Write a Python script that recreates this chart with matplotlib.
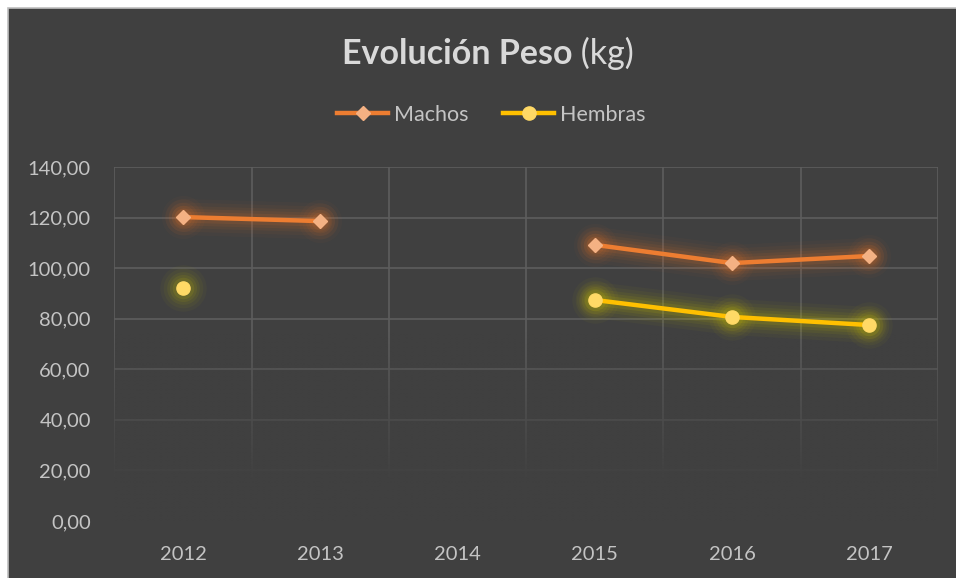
import numpy as np
import matplotlib.pyplot as plt
from matplotlib.patches import Rectangle
from matplotlib.lines import Line2D

years = ["2012", "2013", "2014", "2015", "2016", "2017"]
machos = [120.2, 118.6, np.nan, 109.2, 102.0, 104.8]
hembras = [92.1, np.nan, np.nan, 87.4, 80.7, 77.5]
yticks = [0, 20, 40, 60, 80, 100, 120, 140]
ytick_labels = ["0,00", "20,00", "40,00", "60,00", "80,00", "100,00", "120,00", "140,00"]

FONT = ["Lato", "DejaVu Sans"]
plt.rcParams["font.family"] = FONT
BG = "#404040"
TXT = "#d9d9d9"
TICK = "#c4c4c4"

W, H = 956, 578
fig = plt.figure(figsize=(W / 100, H / 100), dpi=100, facecolor="white")
# chart area panel
fig.patches.append(Rectangle((8 / W, -0.05), 1.1, 1.05 - 8 / H, transform=fig.transFigure,
                             facecolor=BG, edgecolor="#bfbfbf", linewidth=1.2, zorder=-5))

left, right, top, bottom = 114.4, 938, 167, 521
ax = fig.add_axes([left / W, 1 - bottom / H, (right - left) / W, (bottom - top) / H])
ax.set_zorder(2)
ax.set_facecolor(BG)
for s in ax.spines.values():
    s.set_visible(False)

x = np.arange(len(years))
ax.set_xlim(-0.5, len(years) - 0.5)
ax.set_ylim(0, 140)
ax.set_yticks(yticks)
ax.set_yticklabels(ytick_labels)
ax.set_xticks(x)
ax.set_xticklabels(years)
ax.tick_params(length=0, colors=TICK, labelsize=14.5, pad=0)
ax.tick_params(axis="y", pad=17)
ax.tick_params(axis="x", pad=18)

# grid
for yv in yticks:
    ax.axhline(yv, color="#5e5e5e", lw=1.2, zorder=1)
for xv in np.arange(-0.5, len(years), 1.0):
    ax.axvline(xv, color="#5e5e5e", lw=1.2, zorder=1)

# fade overlay toward bottom
grad = np.clip((75 - np.linspace(0, 140, 300)) / 60, 0, 1)
img = np.zeros((300, 2, 4))
img[..., :3] = np.array([0x40, 0x40, 0x40]) / 255
img[..., 3] = grad[:, None]
ax.imshow(img, extent=[-0.5, len(years) - 0.5, 0, 140], origin="lower", aspect="auto",
          zorder=1.5, interpolation="bilinear")

def glow_plot(vals, color, glow, marker, mface, msize):
    v = np.array(vals, dtype=float)
    for lw, a in [(26, 0.04), (21, 0.05), (16, 0.07), (12, 0.09), (8, 0.12)]:
        ax.plot(x, v, color=glow, lw=lw, alpha=a, solid_capstyle="round", zorder=2)
        ax.plot(x, v, ls="none", marker="o", ms=msize + lw - 2, mfc=glow, mec="none",
                alpha=a, zorder=2)
    ax.plot(x, v, color=color, lw=3.2, zorder=3, solid_capstyle="round")
    ax.plot(x, v, ls="none", marker=marker, ms=msize, mfc=mface, mec=mface, zorder=4)

glow_plot(machos, "#ED7D31", "#d9702a", "D", "#F4B183", 7)
glow_plot(hembras, "#FFC000", "#c8c000", "o", "#FFD966", 9.5)

# title
t1 = fig.text(0, 0, "Evolución Peso", fontsize=24.5, fontweight="bold", color=TXT)
t2 = fig.text(0, 0, " (kg)", fontsize=24.5, color=TXT)
fig.canvas.draw()
r = fig.canvas.get_renderer()
w1 = t1.get_window_extent(r).width
w2 = t2.get_window_extent(r).width
x0 = (488 - (w1 + w2) / 2) / W
ty = 1 - 64 / H
t1.set_position((x0, ty))
t2.set_position((x0 + w1 / W, ty))

handles = [Line2D([], [], color="#ED7D31", lw=3.2, marker="D", ms=7, mfc="#F4B183", mec="#F4B183"),
           Line2D([], [], color="#FFC000", lw=3.2, marker="o", ms=9.5, mfc="#FFD966", mec="#FFD966")]
fig.legend(handles, ["Machos", "Hembras"], loc="center", bbox_to_anchor=(491 / W, 1 - 115 / H),
           ncol=2, frameon=False, fontsize=15.5, labelcolor=TICK, handlelength=2.4,
           handletextpad=0.25, columnspacing=1.6)

fig.savefig("out.png", dpi=100, facecolor="white")
